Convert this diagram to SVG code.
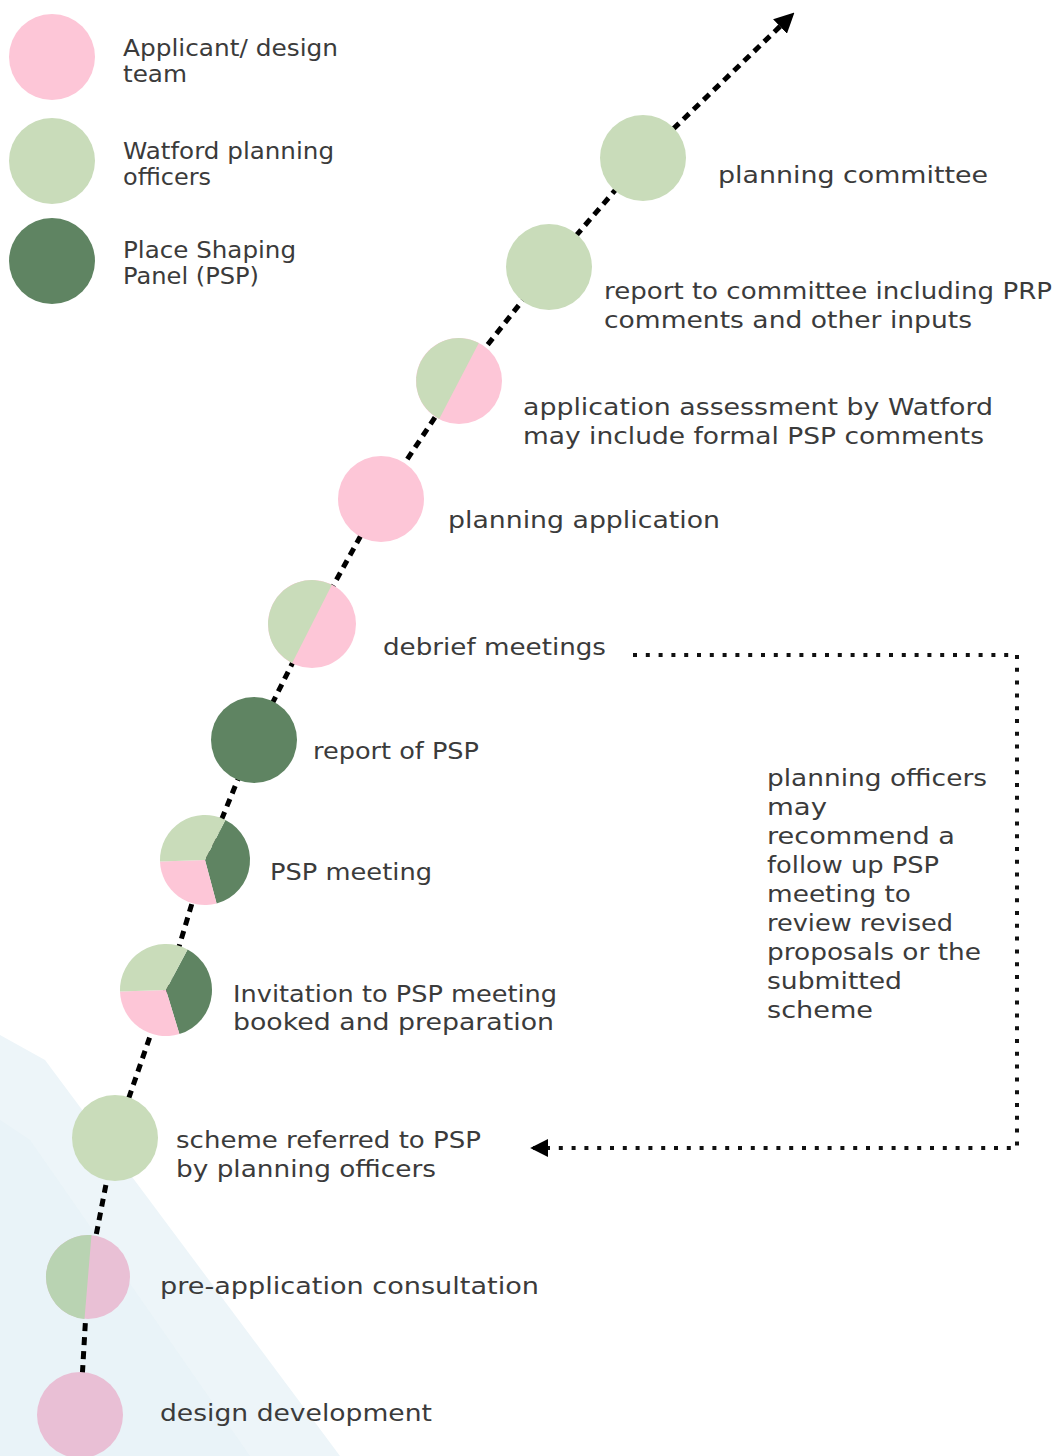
<svg xmlns="http://www.w3.org/2000/svg" width="1059" height="1456" viewBox="0 0 1059 1456">
<style>
.pk{fill:#fdc6d7}
.lg{fill:#c9dcba}
.dg{fill:#5f8462}
.t{font-family:"DejaVu Sans","Liberation Sans",sans-serif;font-size:23px;fill:#3b3b3b}
.main{fill:none;stroke:#000;stroke-width:5;stroke-dasharray:8 6}
.dot{fill:none;stroke:#111;stroke-width:4;stroke-dasharray:4 8.8}
</style>
<defs>
<marker id="ah" viewBox="0 0 10 10" refX="9" refY="5" markerWidth="4" markerHeight="4" orient="auto" markerUnits="strokeWidth">
<path d="M0,0 L10,5 L0,10 Z" fill="#000"/>
</marker>
<marker id="ah2" viewBox="0 0 10 10" refX="9" refY="5" markerWidth="4.5" markerHeight="4.5" orient="auto" markerUnits="strokeWidth">
<path d="M0,0 L10,5 L0,10 Z" fill="#000"/>
</marker>
</defs>
<rect width="1059" height="1456" fill="#fff"/>
<g id="background">
<polygon points="0,1035 45,1060 340,1456 0,1456" fill="#edf5f9"/>
<polygon points="0,1120 30,1140 250,1456 0,1456" fill="#e6f1f6" opacity="0.6"/>
</g>
<g id="connectors">
<polyline class="main" points="80,1415 88,1277 115,1138 166,990 205,860 254,740 312,624 381,499 459,381 549,267 643,158"/>
<line class="main" x1="643" y1="158" x2="793" y2="14" marker-end="url(#ah)"/>
<polyline class="dot" points="633,655 1017,655 1017,1148 532,1148" marker-end="url(#ah2)"/>
</g>
<g id="legend">
<g id="legend-applicant"><circle class="pk" cx="52" cy="57" r="43"/>
<text class="t" x="123" y="56" textLength="215" lengthAdjust="spacingAndGlyphs">Applicant/ design</text>
<text class="t" x="123" y="82" textLength="64" lengthAdjust="spacingAndGlyphs">team</text></g>
<g id="legend-watford"><circle class="lg" cx="52" cy="161" r="43"/>
<text class="t" x="123" y="159" textLength="211" lengthAdjust="spacingAndGlyphs">Watford planning</text>
<text class="t" x="123" y="185" textLength="88" lengthAdjust="spacingAndGlyphs">officers</text></g>
<g id="legend-psp"><circle class="dg" cx="52" cy="261" r="43"/>
<text class="t" x="123" y="258" textLength="173" lengthAdjust="spacingAndGlyphs">Place Shaping</text>
<text class="t" x="123" y="284" textLength="136" lengthAdjust="spacingAndGlyphs">Panel (PSP)</text></g>
</g>
<g id="n-committee"><circle class="lg" cx="643" cy="158" r="43"/>
<text class="t" x="718" y="183" textLength="270" lengthAdjust="spacingAndGlyphs">planning committee</text></g>
<g id="n-report-committee"><circle class="lg" cx="549" cy="267" r="43"/>
<text class="t" x="604" y="299" textLength="448" lengthAdjust="spacingAndGlyphs">report to committee including PRP</text>
<text class="t" x="604" y="328" textLength="368" lengthAdjust="spacingAndGlyphs">comments and other inputs</text></g>
<g id="n-assessment"><circle class="pk" cx="459" cy="381" r="43"/>
<path class="lg" d="M478.8,342.9 A43,43 0 0 0 420.9,361.2 A43,43 0 0 0 439.2,419.1 Z"/>
<text class="t" x="523" y="415" textLength="470" lengthAdjust="spacingAndGlyphs">application assessment by Watford</text>
<text class="t" x="523" y="444" textLength="461" lengthAdjust="spacingAndGlyphs">may include formal PSP comments</text></g>
<g id="n-application"><circle class="pk" cx="381" cy="499" r="43"/>
<text class="t" x="448" y="528" textLength="272" lengthAdjust="spacingAndGlyphs">planning application</text></g>
<g id="n-debrief"><circle class="pk" cx="312" cy="624" r="44"/>
<path class="lg" d="M331.9,584.8 A44,44 0 0 0 272.8,604.1 A44,44 0 0 0 292.1,663.2 Z"/>
<text class="t" x="383" y="655" textLength="223" lengthAdjust="spacingAndGlyphs">debrief meetings</text></g>
<g id="n-report-psp"><circle class="dg" cx="254" cy="740" r="43"/>
<text class="t" x="313" y="759" textLength="166" lengthAdjust="spacingAndGlyphs">report of PSP</text></g>
<g id="n-psp-meeting">
<path class="dg" d="M205,860 L225.4,819.9 A45,45 0 0 1 216.6,903.5 Z"/>
<path class="pk" d="M205,860 L216.6,903.5 A45,45 0 0 1 160,861.6 Z"/>
<path class="lg" d="M205,860 L160,861.6 A45,45 0 0 1 225.4,819.9 Z"/>
<text class="t" x="270" y="880" textLength="162" lengthAdjust="spacingAndGlyphs">PSP meeting</text></g>
<g id="n-invitation">
<path class="dg" d="M166,990 L187.6,949.4 A46,46 0 0 1 179.4,1034 Z"/>
<path class="pk" d="M166,990 L179.4,1034 A46,46 0 0 1 120,991.6 Z"/>
<path class="lg" d="M166,990 L120,991.6 A46,46 0 0 1 187.6,949.4 Z"/>
<text class="t" x="233" y="1002" textLength="324" lengthAdjust="spacingAndGlyphs">Invitation to PSP meeting</text>
<text class="t" x="233" y="1030" textLength="321" lengthAdjust="spacingAndGlyphs">booked and preparation</text></g>
<g id="n-scheme-referred"><circle class="lg" cx="115" cy="1138" r="43"/>
<text class="t" x="176" y="1148" textLength="305" lengthAdjust="spacingAndGlyphs">scheme referred to PSP</text>
<text class="t" x="176" y="1177" textLength="260" lengthAdjust="spacingAndGlyphs">by planning officers</text></g>
<g id="n-pre-app"><circle cx="88" cy="1277" r="42" fill="#e9c0d5"/>
<path d="M91.5,1235.1 A42,42 0 0 0 46.1,1273.5 A42,42 0 0 0 84.5,1318.9 Z" fill="#b9d3b2"/>
<text class="t" x="160" y="1294" textLength="379" lengthAdjust="spacingAndGlyphs">pre-application consultation</text></g>
<g id="n-design-dev"><circle cx="80" cy="1415" r="43" fill="#e9bfd5"/>
<text class="t" x="160" y="1421" textLength="272" lengthAdjust="spacingAndGlyphs">design development</text></g>
<g id="note">
<text class="t" x="767" y="786" textLength="220" lengthAdjust="spacingAndGlyphs">planning officers</text>
<text class="t" x="767" y="815" textLength="60" lengthAdjust="spacingAndGlyphs">may</text>
<text class="t" x="767" y="844" textLength="188" lengthAdjust="spacingAndGlyphs">recommend a</text>
<text class="t" x="767" y="873" textLength="172" lengthAdjust="spacingAndGlyphs">follow up PSP</text>
<text class="t" x="767" y="902" textLength="144" lengthAdjust="spacingAndGlyphs">meeting to</text>
<text class="t" x="767" y="931" textLength="186" lengthAdjust="spacingAndGlyphs">review revised</text>
<text class="t" x="767" y="960" textLength="214" lengthAdjust="spacingAndGlyphs">proposals or the</text>
<text class="t" x="767" y="989" textLength="135" lengthAdjust="spacingAndGlyphs">submitted</text>
<text class="t" x="767" y="1018" textLength="106" lengthAdjust="spacingAndGlyphs">scheme</text>
</g>
</svg>
